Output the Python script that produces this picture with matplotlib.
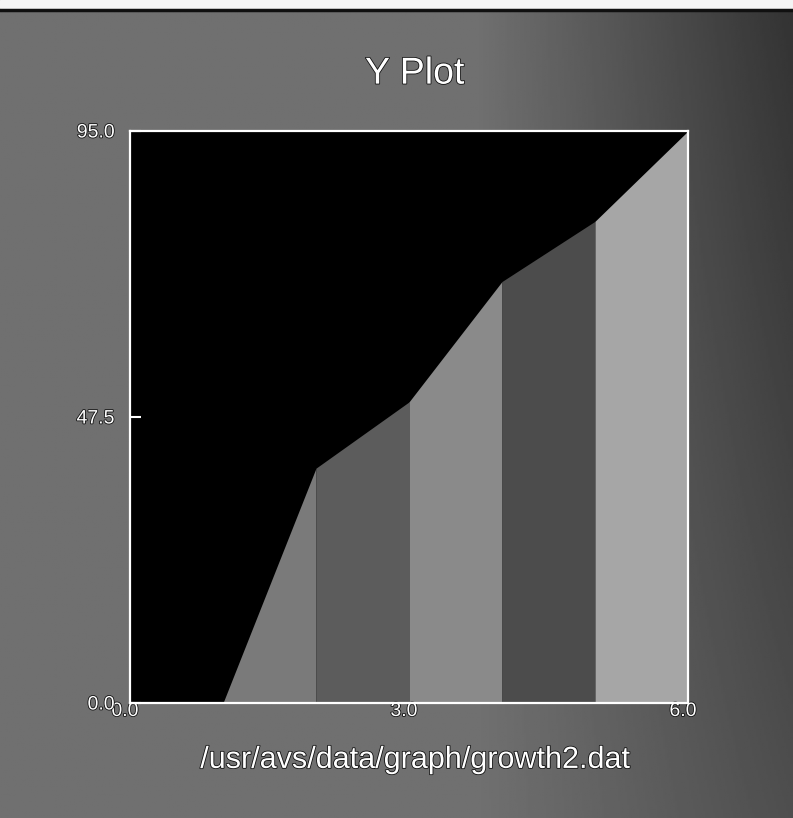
import numpy as np
import matplotlib
matplotlib.use("Agg")
import matplotlib.pyplot as plt
import matplotlib.patheffects as pe
from matplotlib.transforms import ScaledTranslation

# ── data ──
x_vals = [0, 1, 2, 3, 4, 5, 6]
y_vals = [0, 0, 39, 50, 70, 80, 95]
seg_greys = ["#000000", "#7a7a7a", "#5c5c5c", "#8a8a8a", "#4c4c4c", "#a6a6a6"]

x_ticks = [0.0, 3.0, 6.0]
y_ticks = [0.0, 47.5, 95.0]
title = "Y Plot"
file_label = "/usr/avs/data/graph/growth2.dat"

FONT = ["Liberation Sans", "DejaVu Sans"]
outline = [pe.withStroke(linewidth=1.2, foreground="#111111")]

fig = plt.figure(figsize=(7.93, 8.18), dpi=100)

# ── grey panel behind everything, darker towards the upper right ──
bg = fig.add_axes([0, 0, 1, 1], zorder=-5)
u = np.linspace(0, 1, 400)[None, :]
v = np.linspace(0, 1, 400)[:, None]
shade = 0.44 - 0.24 * np.clip((u - 0.6) / 0.4, 0, 1) * (1 - 0.45 * v)
bg.imshow(shade, cmap="gray", vmin=0, vmax=1, aspect="auto",
          extent=[0, 1, 0, 1], origin="upper")
bg.axhspan(0.990, 1.0, color="#f4f4f4")
bg.axhline(0.988, color="#101010", lw=2.5)
bg.set_xlim(0, 1)
bg.set_ylim(0, 1)
bg.axis("off")

ax = fig.add_axes([0.1639, 0.1406, 0.7037, 0.6993])
ax.set_facecolor("black")

# one filled band per interval, each in its own grey
for i in range(len(x_vals) - 1):
    ax.fill_between(x_vals[i:i + 2], 0, y_vals[i:i + 2],
                    color=seg_greys[i], lw=0)

ax.set_xlim(x_vals[0], x_vals[-1])
ax.set_ylim(0, 95)

for s in ax.spines.values():
    s.set_color("white")
    s.set_linewidth(1.6)

ax.set_xticks(x_ticks)
ax.set_yticks(y_ticks)
ax.set_xticklabels([f"{t:.1f}" for t in x_ticks])
ax.set_yticklabels([f"{t:.1f}" for t in y_ticks])
ax.tick_params(axis="y", direction="in", length=8, width=1.5, color="white",
               labelcolor="white", labelsize=14, pad=11)
ax.tick_params(axis="x", length=0, labelcolor="white", labelsize=14, pad=0)
for lab in ax.get_yticklabels() + ax.get_xticklabels():
    lab.set_fontfamily(FONT)
    lab.set_path_effects(outline)
for lab in ax.get_xticklabels():
    lab.set_transform(lab.get_transform() +
                      ScaledTranslation(-5 / 100, 0, fig.dpi_scale_trans))

fig.text(0.523, 0.910, title, ha="center", va="center", color="white",
         fontsize=27, family=FONT, path_effects=outline)
fig.text(0.523, 0.071, file_label, ha="center", va="center", color="white",
         fontsize=22, family=FONT, path_effects=outline)

fig.savefig("out.png", dpi=100)
